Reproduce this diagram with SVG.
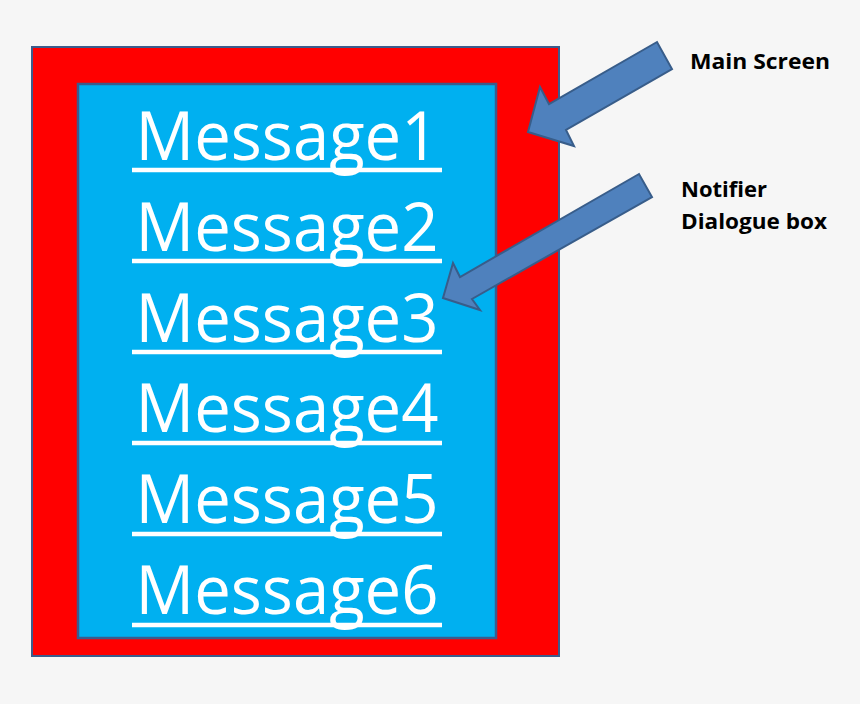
<svg xmlns="http://www.w3.org/2000/svg" width="860" height="704" viewBox="0 0 860 704">
<style>
.msg{font-family:"Open Sans","Noto Sans",sans-serif;font-size:67px;fill:#ffffff;text-anchor:middle}
.ul{stroke:#ffffff;stroke-width:4.5}
.lbl{font-family:"Open Sans","Noto Sans",sans-serif;font-weight:bold;font-size:21px;fill:#000000}
.arrow{fill:#4f81bd;stroke:#385d8a;stroke-width:2;stroke-linejoin:miter}
</style>
<rect width="860" height="704" fill="#f6f6f6"/>
<g id="main-screen">
<rect x="32" y="47" width="527" height="609" fill="#ff0000" stroke="#3b5c8c" stroke-width="2"/>
</g>
<g id="notifier-dialogue">
<rect x="78" y="84" width="418" height="554" fill="#00b0f0" stroke="#3b5c8c" stroke-width="2.5"/>
<text class="msg" x="287" y="160" textLength="303" lengthAdjust="spacingAndGlyphs">Message1</text>
<line class="ul" x1="132" y1="170" x2="442" y2="170"/>
<text class="msg" x="287" y="251" textLength="303" lengthAdjust="spacingAndGlyphs">Message2</text>
<line class="ul" x1="132" y1="261" x2="442" y2="261"/>
<text class="msg" x="287" y="342" textLength="303" lengthAdjust="spacingAndGlyphs">Message3</text>
<line class="ul" x1="132" y1="352" x2="442" y2="352"/>
<text class="msg" x="287" y="432" textLength="303" lengthAdjust="spacingAndGlyphs">Message4</text>
<line class="ul" x1="132" y1="443" x2="442" y2="443"/>
<text class="msg" x="287" y="523" textLength="303" lengthAdjust="spacingAndGlyphs">Message5</text>
<line class="ul" x1="132" y1="534" x2="442" y2="534"/>
<text class="msg" x="287" y="614" textLength="303" lengthAdjust="spacingAndGlyphs">Message6</text>
<line class="ul" x1="132" y1="625" x2="442" y2="625"/>
</g>
<g id="label-main-screen">
<text class="lbl" x="690" y="69" textLength="140" lengthAdjust="spacingAndGlyphs">Main Screen</text>
</g>
<g id="label-notifier">
<text class="lbl" x="681" y="197" textLength="86" lengthAdjust="spacingAndGlyphs">Notifier</text>
<text class="lbl" x="681" y="229" textLength="146" lengthAdjust="spacingAndGlyphs">Dialogue box</text>
</g>
<g id="connectors">
<polygon class="arrow" points="528,132 540,87 549,104 657,42 672,69 566,130 574,146"/>
<polygon class="arrow" points="443,298 453,263 460,277 639,174 652,197 472,299 480,310"/>
</g>
</svg>
